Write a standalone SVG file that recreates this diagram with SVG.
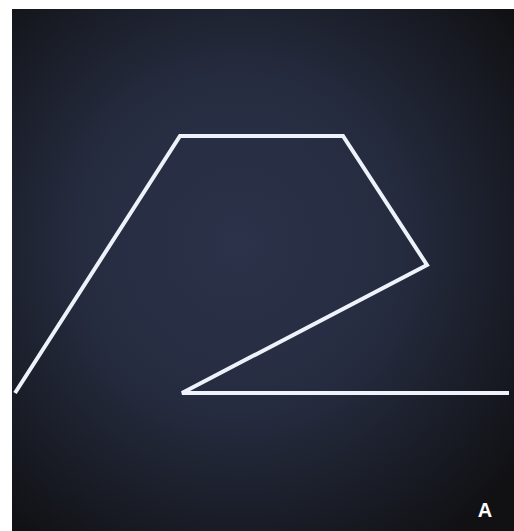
<svg xmlns="http://www.w3.org/2000/svg" width="514" height="531" viewBox="0 0 514 531">
<defs>
<radialGradient id="bg" cx="0.45" cy="0.45" r="0.7">
<stop offset="0" stop-color="#2b3249"/>
<stop offset="0.45" stop-color="#262c40"/>
<stop offset="0.8" stop-color="#181b24"/>
<stop offset="1" stop-color="#111114"/>
</radialGradient>
<style>
.ln{fill:none;stroke:#eef2fa;stroke-width:4;stroke-linejoin:miter;stroke-linecap:butt}
.lbl{font-family:"Liberation Sans",Arial,sans-serif;font-weight:bold;font-size:20px;fill:#ffffff}
</style>
</defs>
<rect x="0" y="0" width="514" height="531" fill="#ffffff"/>
<rect x="12" y="9" width="502" height="522" fill="url(#bg)"/>
<g id="connectors">
<polyline class="ln" points="15,393 180,136 343,136 427,265 182,393 509,393"/>
</g>
<g id="label-A">
<text class="lbl" x="485" y="517" text-anchor="middle">A</text>
</g>
</svg>
